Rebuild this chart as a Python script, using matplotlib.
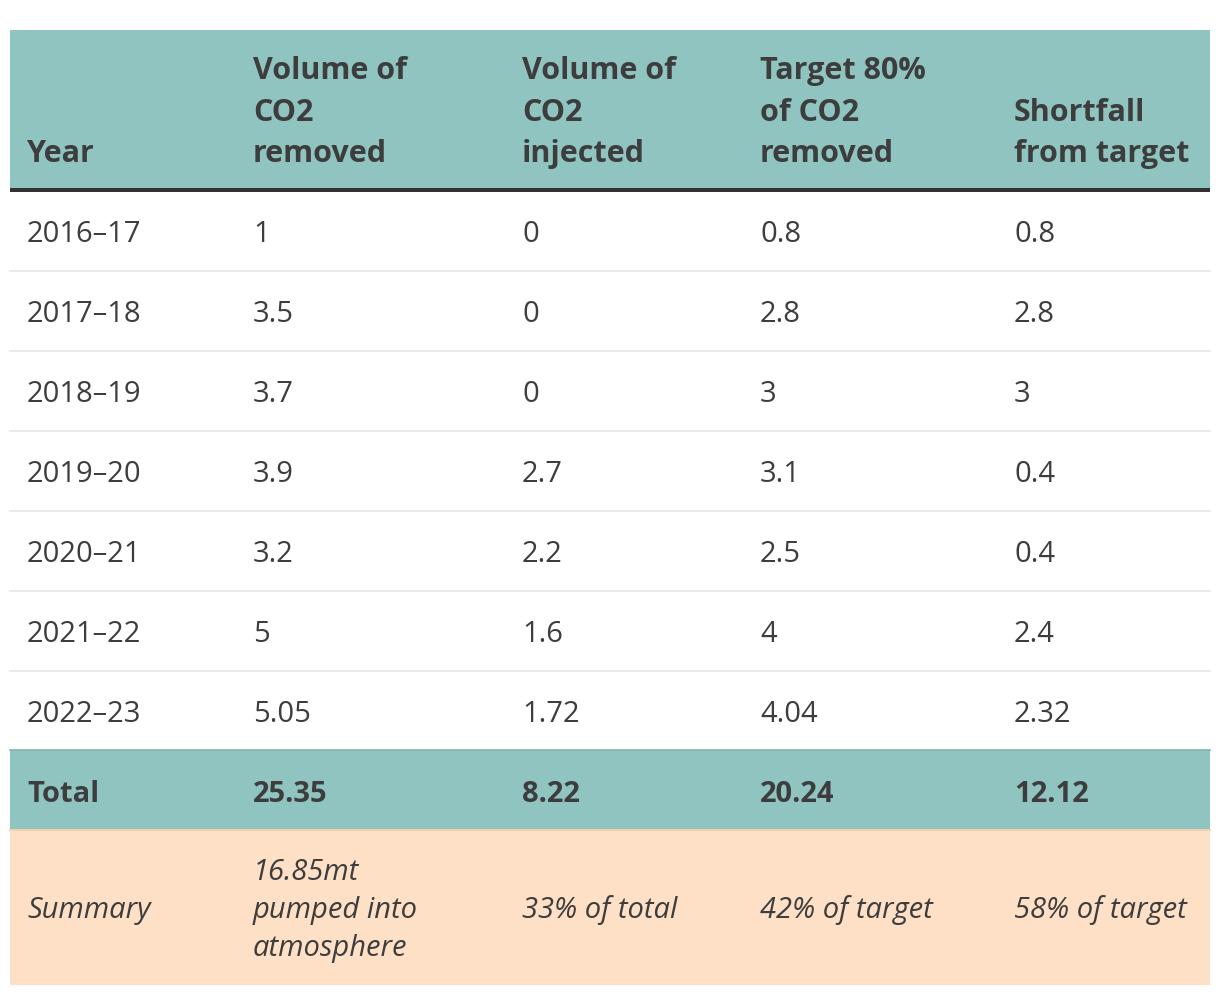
import matplotlib
matplotlib.use("Agg")
import matplotlib.pyplot as plt
from matplotlib.patches import Rectangle

# Table contents
headers = ["Year", "Volume of\nCO2\nremoved", "Volume of\nCO2\ninjected",
           "Target 80%\nof CO2\nremoved", "Shortfall\nfrom target"]
years = ["2016\u201317", "2017\u201318", "2018\u201319", "2019\u201320",
         "2020\u201321", "2021\u201322", "2022\u201323"]
removed = ["1", "3.5", "3.7", "3.9", "3.2", "5", "5.05"]
injected = ["0", "0", "0", "2.7", "2.2", "1.6", "1.72"]
target = ["0.8", "2.8", "3", "3.1", "2.5", "4", "4.04"]
shortfall = ["0.8", "2.8", "3", "0.4", "0.4", "2.4", "2.32"]
totals = ["Total", "25.35", "8.22", "20.24", "12.12"]
summary = ["Summary", "16.85mt\npumped into\natmosphere", "33% of total",
           "42% of target", "58% of target"]

TEAL = "#8fc4c0"
PEACH = "#fde0c5"
TEXT = "#3d3d3d"
FONT = "Open Sans"

W, H = 1220, 996
fig = plt.figure(figsize=(W / 100, H / 100), dpi=100)
ax = fig.add_axes([0, 0, 1, 1])
ax.set_xlim(0, W)
ax.set_ylim(H, 0)
ax.axis("off")

left, right = 10, 1210
col_x = [27, 253, 522, 760, 1014]
head_top, head_bot = 30, 188
row_h = 80
body_top = 191
fs = 21

# header
ax.add_patch(Rectangle((left, head_top), right - left, head_bot - head_top,
                       color=TEAL, lw=0))
ax.add_patch(Rectangle((left, head_bot), right - left, 3.5, color="#333333", lw=0))
for x, h in zip(col_x, headers):
    ax.text(x, 162, h, ha="left", va="baseline", fontsize=22, fontweight="bold",
            color=TEXT, family=FONT, linespacing=1.5)

# body rows
for i, row in enumerate(zip(years, removed, injected, target, shortfall)):
    y0 = body_top + i * row_h
    if i < len(years) - 1:
        ax.plot([left, right], [y0 + row_h, y0 + row_h], color="#e6e6e6", lw=1.2)
    for x, v in zip(col_x, row):
        ax.text(x, y0 + row_h / 2 + 3, v, ha="left", va="center", fontsize=fs,
                color=TEXT, family=FONT)

# total row
tot_top = body_top + len(years) * row_h - 1
ax.add_patch(Rectangle((left, tot_top), right - left, row_h, color=TEAL, lw=0))
ax.plot([left, right], [tot_top, tot_top], color="#7fb3af", lw=1.2)
for x, v in zip(col_x, totals):
    ax.text(x, tot_top + row_h / 2 + 4, v, ha="left", va="center", fontsize=fs,
            fontweight="bold", color=TEXT, family=FONT)

# summary row
sum_top = tot_top + row_h
sum_h = 155
ax.add_patch(Rectangle((left, sum_top), right - left, sum_h, color=PEACH, lw=0))
ax.plot([left, right], [sum_top, sum_top], color="#f0d2b0", lw=1.5)
for x, v in zip(col_x, summary):
    ax.text(x, sum_top + sum_h / 2 + 3, v, ha="left", va="center", fontsize=fs,
            style="italic", color=TEXT, family=FONT, linespacing=1.42)

fig.savefig("out.png", dpi=100, facecolor="white")
